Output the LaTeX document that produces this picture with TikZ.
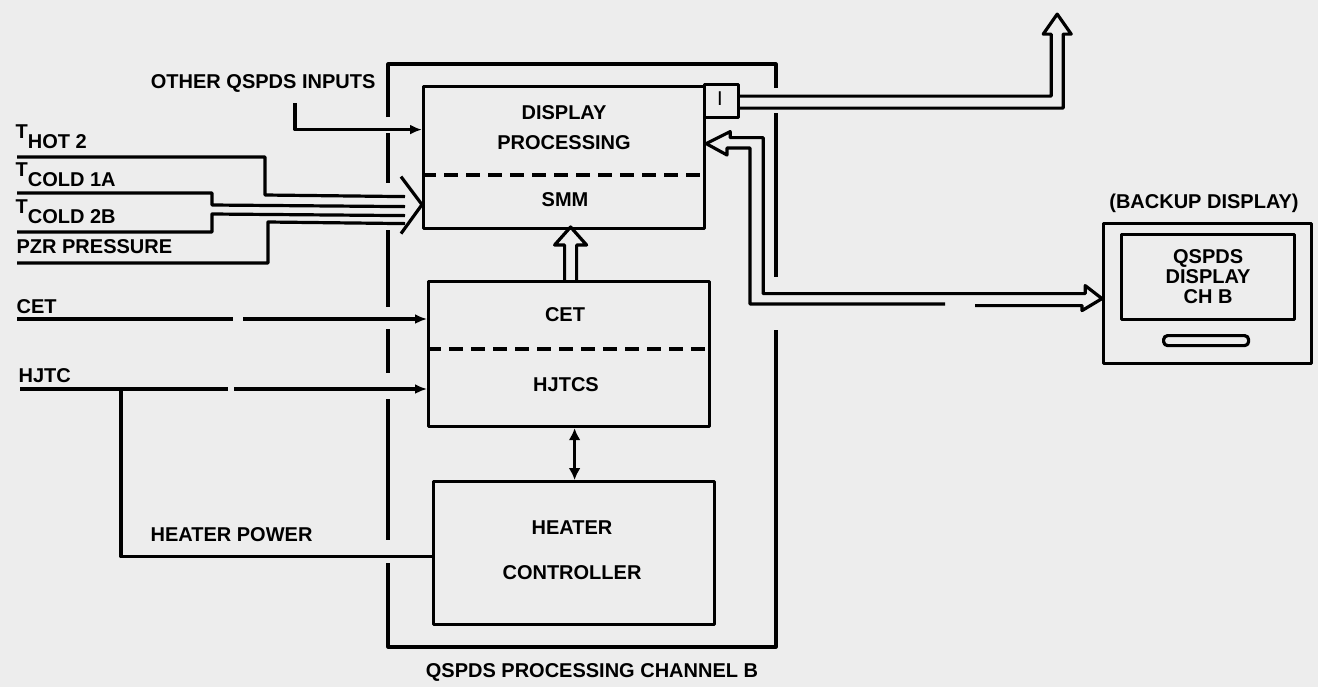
\documentclass[tikz,border=0pt]{standalone}
\usepackage{fontspec}
\setmainfont{Liberation Sans}
\usetikzlibrary{arrows.meta}

\begin{document}
\begin{tikzpicture}[x=0.5pt,y=-0.5pt,line width=1.6pt,line join=round]
\providecommand{\flab}{\fontsize{10}{15}\selectfont\bfseries}
\tikzset{
  blk/.style={draw,rectangle,inner sep=0pt,anchor=north west},
  lab/.style={inner sep=0pt,font=\flab,align=center},
  arr/.style={-{Latex[length=6pt,width=5pt]}},
  twoarr/.style={{Latex[length=6pt,width=6pt]}-{Latex[length=6pt,width=6pt]}},
  divline/.style={dash pattern=on 7pt off 4pt}
}
\fill[black!7] (0,0) rectangle (1318,687);
\useasboundingbox (0,0) rectangle (1318,687);
% processing blocks
\node[blk,minimum width=140.5pt,minimum height=71pt] (dp) at (422,85) {};
\node[blk,minimum width=17pt,minimum height=16.5pt] (ifc) at (703,83) {};
\node[blk,minimum width=140.5pt,minimum height=72.5pt] (cet) at (427,280) {};
\node[blk,minimum width=140.5pt,minimum height=71.5pt] (htr) at (432,480) {};
\draw[divline] (422,175) -- (703,175);
\draw[divline] (427,349) -- (708,349);
\node[lab] (dptx) at (564,128) {DISPLAY\\PROCESSING};
\node[lab] (smmtx) at (565,200) {SMM};
\node[lab,font=\fontsize{10}{15}\selectfont] (ifctx) at (720,99) {I};
\node[lab] (cettx) at (565,315) {CET};
\node[lab] (hjtx) at (566,385) {HJTCS};
\node[lab,font=\fontsize{10}{22.5}\selectfont\bfseries] (htrtx) at (572,550) {HEATER\\CONTROLLER};
% channel enclosure
\draw (388,117) -- (388,64) -- (776,64) -- (776,88);
\draw (388,133) -- (388,183);
\draw (388,230) -- (388,307);
\draw (388,329) -- (388,373);
\draw (388,399) -- (388,540);
\draw (388,563) -- (388,647) -- (776,647) -- (776,330);
\draw (776,113) -- (776,277);
\node[lab] (chantx) at (592,672) {QSPDS PROCESSING CHANNEL B};
% backup display
\node[blk,minimum width=104pt,minimum height=70pt] (bkp) at (1102,222) {};
\node[blk,minimum width=86.5pt,minimum height=42.5pt] (scr) at (1120,233) {};
\node[blk,minimum width=42.5pt,minimum height=5pt,rounded corners=2pt] (slot) at (1162,334) {};
\node[lab,font=\fontsize{10}{10}\selectfont\bfseries] (scrtx) at (scr.center) {QSPDS\\DISPLAY\\CH B};
\node[lab] (bkptx) at (1204,203) {(BACKUP DISPLAY)};
% input labels
\node[lab,anchor=east] (oqtx) at (377,83) {OTHER QSPDS INPUTS};
\node[lab,anchor=base west] (thtx) at (14,138) {T\raisebox{-1ex}{HOT 2}};
\node[lab,anchor=base west] (tc1tx) at (14,176) {T\raisebox{-1ex}{COLD 1A}};
\node[lab,anchor=base west] (tc2tx) at (14,213) {T\raisebox{-1ex}{COLD 2B}};
\node[lab,anchor=base west] (pzrtx) at (15,253) {PZR PRESSURE};
\node[lab,anchor=west] (cetin tx) at (15,307) {CET};
\node[lab,anchor=west] (hjin tx) at (17,376) {HJTC};
\node[lab,anchor=west] (hptx) at (149,535) {HEATER POWER};
% connectors
\coordinate (oq) at (295,103);
\draw[arr] (oq) |- ([yshift=14pt]dp.west);
\coordinate (chev) at ([yshift=-23.5pt]dp.west);
\draw ([shift={(-10.5pt,14pt)}]chev) -- (chev) -- ([shift={(-10.5pt,-14.5pt)}]chev);
\coordinate (th) at (17,157);
\coordinate (tc1) at (17,193);
\coordinate (tc2) at (17,232);
\coordinate (pzr) at (17,263);
\draw (th) -| (265,195) -- ([shift={(-8.5pt,4pt)}]chev);
\draw (tc1) -| (212,205) -- ([shift={(-8.5pt,-1pt)}]chev);
\draw (tc2) -| (212,214) -- ([shift={(-8.5pt,-5.5pt)}]chev);
\draw (pzr) -| (268,222) -- ([shift={(-8.5pt,-9.5pt)}]chev);
\coordinate (cetin) at (17,319);
\draw (cetin) -- (233,319);
\draw[arr] (243,319) -- (cetin -| cet.west);
\coordinate (hjin) at (20,389);
\draw (hjin) -- (228,389);
\draw[arr] (234,389) -- (hjin -| cet.west);
\coordinate (hpj) at (121,389);
\draw (hpj) |- ([yshift=-1.75pt]htr.west);
\draw[twoarr] ([xshift=2.75pt]cet.south) -- ([xshift=2.75pt]cet.south |- htr.north);
% bus to SMM
\coordinate (up) at ([xshift=0.75pt]cet.north);
\draw ([xshift=-3pt]up) -- ++(0,-35) -- ++(-10,0) -- ++(16,-18) -- ++(16,18) -- ++(-10,0) -- ++(0,35);
% output bus
\draw ([yshift=2.5pt]ifc.east) -- ++(311,0) -- ++(0,-62) -- ++(-8,0) -- ++(14,-20) -- ++(14,20) -- ++(-8,0) -- ++(0,74) -- ([yshift=-3.5pt]ifc.east);
% bus between display processing and backup display
\coordinate (din) at ([yshift=7pt]dp.east);
\coordinate (bin) at ([yshift=-2.5pt]bkp.west);
\draw (din) -- ++(24,-12) -- ++(0,6) -- ++(33,0) -- ++(0,156) -- ++(322,0) -- ++(0,-8) -- (bin) -- ++(-20,12) -- ++(0,-5) -- ++(-107,0);
\draw (945,304) -- (750,304) -- (750,148) -- (727,148) -- (727,155) -- (din);
\end{tikzpicture}
\end{document}
